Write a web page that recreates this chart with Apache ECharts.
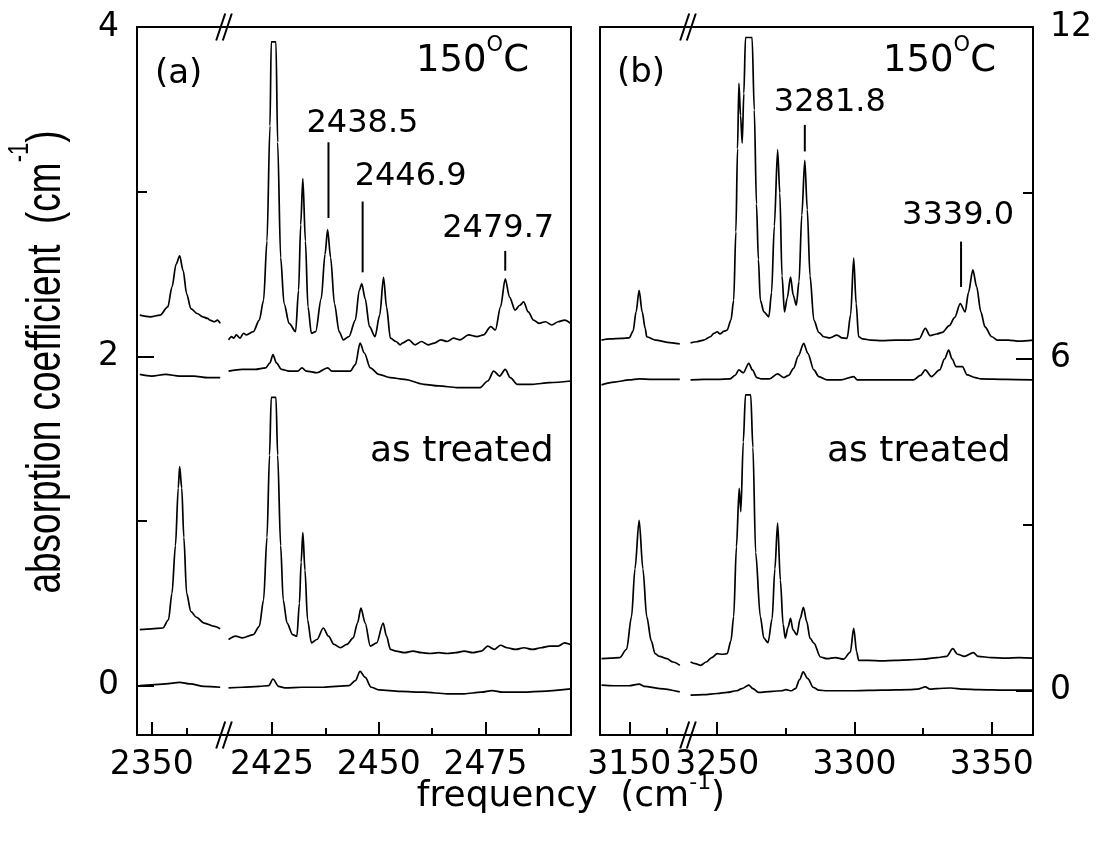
<!DOCTYPE html>
<html><head><meta charset="utf-8">
<script src="https://cdn.jsdelivr.net/npm/echarts@6/dist/echarts.min.js"></script>
<style>html,body{margin:0;padding:0;background:#fff}#c{width:1099px;height:848px}</style>
</head><body><div id="c"></div>
<script>
// ---------------- DATA ----------------
// Panel (a): frequency (cm-1), absorption coefficient (cm-1), left axis
// segment left of the break (~2348-2360) and right of it (~2414-2495)
const aHotUpL = [[2348.3,2.25],[2349.8,2.24],[2351.2,2.25],[2352.3,2.30],[2352.9,2.42],[2353.5,2.56],[2354.0,2.61],[2354.5,2.52],[2355.0,2.38],[2355.6,2.29],[2356.5,2.26],[2357.3,2.24],[2358.0,2.23],[2358.3,2.22],[2359.0,2.21],[2359.4,2.22],[2359.8,2.20]];
const aHotUpR = [[2414.8,2.10],[2415.5,2.12],[2416.0,2.11],[2416.6,2.13],[2417.5,2.11],[2418.3,2.14],[2419.0,2.13],[2420.6,2.15],[2422.0,2.22],[2423.0,2.34],[2423.8,2.70],[2424.5,3.40],[2424.8,3.91],[2425.9,3.91],[2426.3,3.30],[2427.0,2.60],[2427.8,2.32],[2429.0,2.20],[2430.5,2.15],[2431.2,2.40],[2431.7,2.80],[2432.2,3.08],[2432.8,2.70],[2433.4,2.30],[2434.2,2.14],[2435.2,2.15],[2436.5,2.35],[2437.4,2.62],[2438.0,2.77],[2438.7,2.60],[2439.6,2.32],[2440.7,2.15],[2441.7,2.10],[2443.0,2.12],[2444.5,2.22],[2445.4,2.40],[2446.0,2.44],[2446.8,2.35],[2447.8,2.18],[2449.1,2.12],[2450.2,2.25],[2451.1,2.48],[2451.8,2.30],[2452.7,2.11],[2454.0,2.09],[2455.0,2.07],[2455.5,2.08],[2457.0,2.10],[2458.5,2.07],[2460.0,2.09],[2461.5,2.07],[2463.0,2.08],[2464.5,2.10],[2466.0,2.09],[2467.5,2.11],[2469.0,2.10],[2471.0,2.13],[2473.0,2.12],[2474.5,2.13],[2476.2,2.18],[2477.3,2.16],[2478.5,2.30],[2479.6,2.47],[2480.6,2.36],[2481.9,2.28],[2483.0,2.31],[2483.9,2.33],[2485.0,2.27],[2486.2,2.22],[2487.5,2.20],[2489.0,2.21],[2490.5,2.19],[2492.0,2.21],[2493.5,2.22],[2494.9,2.20]];
const aHotLoL = [[2348.3,1.89],[2350.0,1.88],[2352.0,1.89],[2354.0,1.88],[2356.0,1.88],[2358.0,1.87],[2359.8,1.87]];
const aHotLoR = [[2414.8,1.91],[2418.0,1.92],[2421.0,1.92],[2423.5,1.93],[2424.5,1.96],[2425.2,2.01],[2426.0,1.96],[2427.2,1.92],[2429.0,1.91],[2431.0,1.91],[2432.0,1.93],[2433.0,1.91],[2435.5,1.90],[2438.0,1.93],[2439.0,1.91],[2443.3,1.91],[2444.5,1.95],[2445.6,2.08],[2446.6,2.02],[2448.0,1.93],[2450.0,1.89],[2452.7,1.87],[2456.0,1.86],[2460.5,1.83],[2464.0,1.82],[2468.3,1.81],[2471.0,1.81],[2473.7,1.81],[2475.5,1.85],[2476.9,1.91],[2478.3,1.88],[2479.6,1.92],[2480.8,1.87],[2482.4,1.83],[2486.0,1.83],[2490.0,1.84],[2494.9,1.85]];
const aAsUpL = [[2348.3,0.34],[2350.0,0.345],[2351.6,0.35],[2352.4,0.40],[2352.9,0.56],[2353.4,0.85],[2353.8,1.20],[2354.0,1.33],[2354.3,1.20],[2354.6,0.90],[2355.0,0.56],[2355.6,0.45],[2356.4,0.415],[2357.5,0.38],[2359.0,0.36],[2359.8,0.345]];
const aAsUpR = [[2414.8,0.28],[2416.5,0.30],[2418.0,0.29],[2420.6,0.31],[2422.0,0.36],[2423.0,0.52],[2423.8,0.90],[2424.4,1.40],[2424.8,1.75],[2425.9,1.75],[2426.3,1.40],[2427.0,0.85],[2427.6,0.52],[2428.5,0.38],[2429.8,0.31],[2430.8,0.30],[2431.4,0.50],[2431.8,0.75],[2432.2,0.93],[2432.7,0.70],[2433.3,0.40],[2434.2,0.26],[2435.5,0.28],[2437.0,0.35],[2438.2,0.30],[2439.5,0.25],[2441.0,0.23],[2442.5,0.25],[2444.0,0.29],[2445.0,0.38],[2445.8,0.47],[2446.8,0.38],[2448.0,0.24],[2449.5,0.26],[2451.0,0.38],[2451.8,0.30],[2452.7,0.22],[2454.0,0.21],[2456.0,0.20],[2458.0,0.21],[2460.0,0.20],[2462.0,0.195],[2464.0,0.20],[2466.0,0.195],[2468.0,0.20],[2470.0,0.21],[2472.0,0.20],[2474.0,0.21],[2475.5,0.24],[2477.0,0.22],[2478.5,0.245],[2480.0,0.23],[2482.0,0.22],[2484.0,0.23],[2486.0,0.22],[2488.0,0.23],[2490.0,0.24],[2492.0,0.24],[2493.5,0.26],[2494.9,0.25]];
const aAsLoL = [[2348.3,0.0],[2350.0,0.005],[2352.0,0.01],[2354.0,0.02],[2355.5,0.01],[2357.5,-0.005],[2359.8,-0.01]];
const aAsLoR = [[2414.8,-0.014],[2418.0,-0.01],[2422.0,-0.005],[2424.2,0.0],[2425.2,0.04],[2426.5,-0.005],[2428.0,-0.014],[2432.0,-0.01],[2437.0,-0.01],[2443.0,0.0],[2444.5,0.03],[2445.6,0.087],[2446.8,0.05],[2448.2,-0.01],[2450.0,-0.026],[2455.0,-0.035],[2460.5,-0.04],[2466.0,-0.05],[2470.0,-0.05],[2474.0,-0.04],[2476.5,-0.03],[2479.0,-0.04],[2483.0,-0.04],[2488.0,-0.035],[2494.9,-0.02]];

// Panel (b): right axis (0-12)
const bHotUpL = [[3142.7,6.34],[3145.0,6.36],[3148.0,6.37],[3150.0,6.38],[3151.0,6.50],[3151.8,6.85],[3152.6,7.24],[3153.4,6.85],[3154.2,6.55],[3154.6,6.40],[3157.0,6.34],[3160.0,6.30],[3163.3,6.27]];
const bHotUpR = [[3240.3,6.29],[3242.5,6.31],[3245.1,6.34],[3247.5,6.40],[3248.8,6.46],[3250.0,6.49],[3251.0,6.45],[3252.5,6.50],[3253.6,6.52],[3255.0,6.70],[3256.0,7.06],[3256.8,8.30],[3257.4,9.80],[3257.9,10.98],[3258.5,10.40],[3259.1,9.90],[3259.7,10.80],[3260.3,11.81],[3262.7,11.81],[3263.5,10.50],[3264.3,8.80],[3265.0,7.80],[3265.7,7.06],[3267.0,6.85],[3268.8,6.76],[3269.8,7.20],[3270.8,8.40],[3272.0,9.78],[3272.8,9.00],[3273.6,7.50],[3274.5,6.85],[3275.5,7.10],[3276.7,7.48],[3277.7,7.15],[3278.8,6.97],[3279.8,7.40],[3280.8,8.60],[3281.9,9.59],[3282.8,8.70],[3283.8,7.50],[3285.2,6.70],[3287.0,6.48],[3288.8,6.40],[3291.0,6.38],[3293.6,6.43],[3295.5,6.38],[3297.3,6.37],[3298.6,6.80],[3299.7,7.82],[3300.6,7.00],[3301.5,6.40],[3303.0,6.36],[3306.0,6.34],[3310.0,6.33],[3315.0,6.34],[3320.0,6.34],[3323.5,6.36],[3325.8,6.55],[3327.5,6.42],[3330.0,6.45],[3332.0,6.48],[3334.5,6.60],[3336.5,6.75],[3338.5,7.00],[3340.3,6.85],[3341.5,7.20],[3343.1,7.61],[3344.5,7.30],[3346.0,6.85],[3347.5,6.58],[3350.0,6.40],[3352.0,6.34],[3356.0,6.34],[3360.0,6.32],[3365.0,6.34]];
const bHotLoL = [[3142.7,5.53],[3146.0,5.58],[3150.0,5.62],[3152.6,5.64],[3156.0,5.63],[3160.0,5.63],[3163.3,5.63]];
const bHotLoR = [[3240.3,5.62],[3245.0,5.63],[3250.0,5.63],[3254.7,5.64],[3256.5,5.70],[3257.9,5.80],[3259.5,5.75],[3261.5,5.92],[3262.8,5.80],[3264.5,5.66],[3266.0,5.64],[3269.0,5.64],[3272.0,5.73],[3274.2,5.66],[3276.0,5.70],[3277.8,5.83],[3279.5,6.05],[3281.5,6.28],[3283.0,6.10],[3285.2,5.80],[3287.0,5.68],[3290.0,5.62],[3295.0,5.62],[3299.7,5.68],[3301.0,5.62],[3305.0,5.62],[3315.0,5.62],[3321.5,5.62],[3324.0,5.70],[3325.8,5.80],[3328.0,5.68],[3331.0,5.80],[3332.8,6.00],[3334.3,6.16],[3335.5,6.00],[3337.0,5.86],[3338.5,5.86],[3339.3,5.86],[3341.0,5.71],[3344.0,5.66],[3346.0,5.64],[3355.0,5.63],[3365.0,5.62]];
const bAsUpL = [[3142.7,0.58],[3145.0,0.59],[3147.5,0.60],[3149.3,0.75],[3150.6,1.34],[3151.5,2.20],[3152.6,3.08],[3153.6,2.20],[3154.6,1.34],[3155.8,0.90],[3156.8,0.67],[3158.0,0.62],[3159.9,0.58],[3161.5,0.52],[3163.3,0.46]];
const bAsUpR = [[3240.3,0.52],[3242.0,0.49],[3244.0,0.46],[3246.0,0.52],[3248.0,0.60],[3250.0,0.67],[3252.0,0.66],[3253.6,0.67],[3255.0,0.90],[3256.0,1.34],[3257.0,2.60],[3258.0,3.66],[3258.6,3.24],[3259.5,4.50],[3260.3,5.35],[3262.2,5.35],[3263.0,4.40],[3264.0,2.50],[3265.7,1.34],[3267.0,0.95],[3268.5,0.87],[3270.0,1.30],[3271.0,2.20],[3272.0,3.03],[3273.0,2.00],[3274.0,1.20],[3274.8,0.95],[3275.8,1.15],[3276.7,1.31],[3277.6,1.10],[3279.0,1.01],[3280.2,1.30],[3281.4,1.51],[3282.6,1.25],[3283.8,0.95],[3285.2,0.86],[3287.6,0.61],[3290.0,0.58],[3293.0,0.60],[3296.0,0.57],[3298.5,0.70],[3299.7,1.13],[3300.8,0.70],[3301.5,0.55],[3305.0,0.55],[3310.0,0.54],[3315.0,0.55],[3320.0,0.56],[3325.0,0.57],[3330.0,0.60],[3333.5,0.62],[3335.8,0.76],[3337.5,0.66],[3340.0,0.62],[3343.3,0.69],[3345.0,0.62],[3350.0,0.60],[3355.0,0.59],[3360.0,0.60],[3365.0,0.59]];
const bAsLoL = [[3142.7,0.10],[3146.0,0.09],[3150.0,0.09],[3152.6,0.12],[3154.0,0.08],[3158.0,0.04],[3163.3,-0.02]];
const bAsLoR = [[3240.3,-0.08],[3245.0,-0.07],[3250.0,-0.05],[3253.6,-0.03],[3257.0,0.0],[3259.0,0.04],[3261.5,0.10],[3263.0,0.04],[3265.0,-0.03],[3270.0,-0.01],[3273.5,0.0],[3275.0,0.02],[3277.0,0.0],[3278.5,0.04],[3280.0,0.20],[3281.3,0.34],[3283.0,0.22],[3285.0,0.06],[3287.0,0.01],[3290.0,0.0],[3300.0,0.0],[3310.0,0.01],[3320.0,0.02],[3323.0,0.03],[3325.8,0.07],[3327.5,0.03],[3330.0,0.04],[3335.0,0.05],[3340.0,0.03],[3345.0,0.02],[3355.0,0.01],[3365.0,0.01]];

// Peak markers: [frequency, lower end, upper end, label]
const annotA = [[2438.2,2.84,3.30,'2438.5'],[2446.2,2.51,2.94,'2446.9'],[2479.6,2.52,2.64,'2479.7']];
const annotB = [[3281.9,9.75,10.23,'3281.8'],[3338.8,7.30,8.12,'3339.0']];

// Axis ticks
const xTicksA1 = [2350], xMinorA1 = [2355];
const xTicksA2 = [2425,2450,2475], xMinorA2 = [2437.5,2462.5,2487.5];
const xTicksB1 = [3150], xMinorB1 = [3160];
const xTicksB2 = [3250,3300,3350], xMinorB2 = [3275,3325];
const yTicksA = [0,2,4], yMinorA = [1,3];
const yTicksB = [0,6,12], yMinorB = [3,9];

// ---------------- LAYOUT / STYLE ----------------
const FONT = "'DejaVu Sans', sans-serif";
const BLK = '#000';
const plain = v => String(v);
const grids = [
  {left:137, top:27, width:86, height:708},
  {left:223, top:27, width:348, height:708},
  {left:600, top:27, width:87, height:708},
  {left:687, top:27, width:346, height:708}
];
const xRanges = [[2347.9,2360.2],[2413.5,2495],[3142.3,3165.2],[3239,3365]];
const yRangeA = [-0.3,4], yRangeB = [-0.8,12];
const xMajors = [xTicksA1,xTicksA2,xTicksB1,xTicksB2];
const xMinors = [xMinorA1,xMinorA2,xMinorB1,xMinorB2];

const xAxes = [];
grids.forEach((g,i)=>{
  const r = xRanges[i];
  xAxes.push({type:'value',gridIndex:i,min:r[0],max:r[1],position:'bottom',
    axisLine:{show:true,onZero:false,lineStyle:{color:BLK,width:2}},
    axisTick:{show:true,inside:true,length:13,customValues:xMajors[i],lineStyle:{color:BLK,width:2}},
    axisLabel:{show:true,customValues:xMajors[i],formatter:plain,margin:14,fontFamily:FONT,fontSize:33,color:BLK},
    splitLine:{show:false}});
  xAxes.push({type:'value',gridIndex:i,min:r[0],max:r[1],position:'bottom',
    axisLine:{show:false,onZero:false},
    axisTick:{show:true,inside:true,length:7,customValues:xMinors[i],lineStyle:{color:BLK,width:2}},
    axisLabel:{show:false},splitLine:{show:false}});
  xAxes.push({type:'value',gridIndex:i,min:r[0],max:r[1],position:'top',
    axisLine:{show:true,onZero:false,lineStyle:{color:BLK,width:2}},
    axisTick:{show:false},axisLabel:{show:false},splitLine:{show:false}});
});

function yLine(grid,pos,range){
  return {type:'value',gridIndex:grid,position:pos,min:range[0],max:range[1],
    axisLine:{show:true,onZero:false,lineStyle:{color:BLK,width:2}},
    axisTick:{show:false},axisLabel:{show:false},splitLine:{show:false}};
}
const yAxes = [
  Object.assign(yLine(0,'left',yRangeA),{
    axisTick:{show:true,inside:true,length:17,customValues:yTicksA,lineStyle:{color:BLK,width:2}},
    axisLabel:{show:true,customValues:yTicksA,formatter:plain,margin:18,fontFamily:FONT,fontSize:33,color:BLK}}),
  Object.assign(yLine(0,'left',yRangeA),{axisLine:{show:false},
    axisTick:{show:true,inside:true,length:10,customValues:yMinorA,lineStyle:{color:BLK,width:2}}}),
  yLine(1,'right',yRangeA),
  yLine(2,'left',yRangeB),
  Object.assign(yLine(3,'right',yRangeB),{
    axisTick:{show:true,inside:true,length:17,customValues:yTicksB,lineStyle:{color:BLK,width:2}},
    axisLabel:{show:true,customValues:yTicksB,formatter:plain,margin:17,fontFamily:FONT,fontSize:33,color:BLK}}),
  Object.assign(yLine(3,'right',yRangeB),{axisLine:{show:false},
    axisTick:{show:true,inside:true,length:10,customValues:yMinorB,lineStyle:{color:BLK,width:2}}})
];

function trace(data,gi,yi){
  return {type:'line',data:data,xAxisIndex:gi*3,yAxisIndex:yi,showSymbol:false,symbol:'none',
    smooth:0.3,smoothMonotone:'x',lineStyle:{color:BLK,width:1.7},silent:true,z:3};
}
const series = [
  trace(aHotUpL,0,0),trace(aHotLoL,0,0),trace(aAsUpL,0,0),trace(aAsLoL,0,0),
  trace(aHotUpR,1,2),trace(aHotLoR,1,2),trace(aAsUpR,1,2),trace(aAsLoR,1,2),
  trace(bHotUpL,2,3),trace(bHotLoL,2,3),trace(bAsUpL,2,3),trace(bAsLoL,2,3),
  trace(bHotUpR,3,4),trace(bHotLoR,3,4),trace(bAsUpR,3,4),trace(bAsLoR,3,4)
];
// label placement (pixel offsets) for the peak markers
const annotStyleA = [{dx:34,dist:3},{dx:48,dist:9},{dx:-7,dist:6}];
const annotStyleB = [{dx:25,dist:6},{dx:-3,dist:10}];
function marker(a,st,gi,yi){
  return {type:'line',xAxisIndex:gi*3,yAxisIndex:yi,showSymbol:true,symbol:'circle',symbolSize:0,
    lineStyle:{color:BLK,width:2},silent:true,z:4,
    data:[[a[0],a[1]],{value:[a[0],a[2]],label:{show:true,position:'top',distance:st.dist,offset:[st.dx,0],
      formatter:a[3],fontFamily:FONT,fontSize:32,color:BLK}}]};
}
annotA.forEach((a,i)=>series.push(marker(a,annotStyleA[i],1,2)));
annotB.forEach((a,i)=>series.push(marker(a,annotStyleB[i],3,4)));

// break marks "//" at the joints of the split axes
function breakMarks(cx,cy){
  return [-3.3,3.3].map(o=>({type:'line',shape:{x1:cx+o-4.5,y1:cy+13.5,x2:cx+o+4.5,y2:cy-13.5},
    style:{stroke:BLK,lineWidth:2},z:10}));
}
const graphics = [];
[grids[0],grids[2]].forEach(g=>{
  const cx = g.left+g.width+1;
  graphics.push(...breakMarks(cx,g.top),...breakMarks(cx,g.top+g.height));
});
function txt(x,y,text,size,extra){
  return Object.assign({type:'text',x:x,y:y,z:10,style:{text:text,fontFamily:FONT,fontSize:size,fill:BLK,
    textAlign:'left',textVerticalAlign:'middle',verticalAlign:'middle'}},extra||{});
}
const tempRich = {n:{fontFamily:FONT,fontSize:37,lineHeight:51,verticalAlign:'middle'},
                  s:{fontFamily:FONT,fontSize:21,lineHeight:21,verticalAlign:'top'}};
graphics.push(
  txt(155,74,'(a)',34), txt(617,73,'(b)',34),
  {type:'text',x:416,y:61,z:10,style:{text:'{n|150}{s|O}{n|C}',rich:tempRich,fill:BLK,verticalAlign:'middle',textVerticalAlign:'middle'}},
  {type:'text',x:883,y:61,z:10,style:{text:'{n|150}{s|O}{n|C}',rich:tempRich,fill:BLK,verticalAlign:'middle',textVerticalAlign:'middle'}},
  txt(370,452,'as treated',36), txt(827,452,'as treated',36),
  {type:'text',x:571,y:797,z:10,style:{text:'{a|frequency  (cm}{s|-1}{a|)}',textAlign:'center',align:'center',
    verticalAlign:'middle',textVerticalAlign:'middle',fill:BLK,
    rich:{a:{fontFamily:FONT,fontSize:36,lineHeight:50,verticalAlign:'middle'},s:{fontFamily:FONT,fontSize:22,lineHeight:22,verticalAlign:'top'}}}},
  {type:'text',x:47,y:362,rotation:Math.PI/2,scaleY:1.3,z:10,style:{text:'{a|absorption coefficient  (cm}{s|-1}{a|)}',
    textAlign:'center',align:'center',verticalAlign:'middle',textVerticalAlign:'middle',fill:BLK,
    rich:{a:{fontFamily:"'Liberation Sans', Arial, sans-serif",fontSize:37,lineHeight:64,verticalAlign:'middle'},
          s:{fontFamily:"'Liberation Sans', Arial, sans-serif",fontSize:22,lineHeight:22,verticalAlign:'top'}}}}
);

const chart = echarts.init(document.getElementById('c'),null,{renderer:'canvas'});
chart.setOption({
  animation:false,
  backgroundColor:'#fff',
  grid:grids,
  xAxis:xAxes,
  yAxis:yAxes,
  series:series,
  graphic:graphics
});
</script></body></html>
